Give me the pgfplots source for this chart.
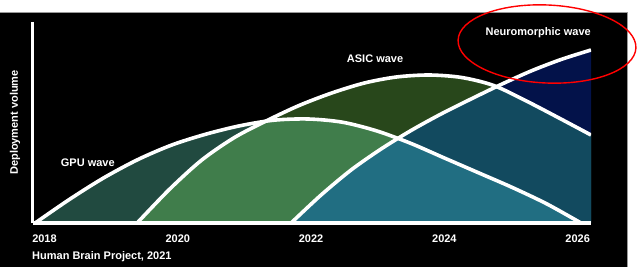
\documentclass[border=0pt]{standalone}
\usepackage{pgfplots}
\pgfplotsset{compat=1.18}
\usepackage{pgfplotstable}
\usepackage{fontspec}
\setmainfont{Liberation Sans}
\definecolor{gputeal}{HTML}{214A40}
\definecolor{asicgreen}{HTML}{28471B}
\definecolor{midgreen}{HTML}{407D4B}
\definecolor{neuroteal}{HTML}{216E82}
\definecolor{blueteal}{HTML}{124A5F}
\definecolor{navyblue}{HTML}{03124A}
\newcommand\labfont{\fontsize{11bp}{13bp}\selectfont\bfseries}

% GPU wave
\pgfplotstableread{
x y
2017.86 0
2018.37 23.4
2018.88 44.8
2019.40 63.4
2019.91 78.0
2020.42 88.8
2020.93 97.2
2021.44 102.8
2021.96 104.0
2022.47 100.8
2022.98 92.2
2023.49 79.8
2024.00 65.0
2024.52 50.0
2025.03 35.2
2025.54 19.0
2026.05 0
}\gpu

% ASIC wave
\pgfplotstableread{
x y
2019.39 0
2019.88 34
2020.36 63
2020.85 85.5
2021.34 102.5
2021.82 117.5
2022.31 130
2022.80 140
2023.28 146
2023.77 148
2024.26 145.5
2024.74 137.5
2025.23 122
2025.72 105
2026.20 88
}\asic

% Neuromorphic wave
\pgfplotstableread{
x y
2021.70 0
2022.15 28
2022.60 53
2023.05 74
2023.50 92.5
2023.95 109
2024.40 124
2024.85 138.5
2025.30 152
2025.75 163.5
2026.20 173
}\neuro

% lower envelope of ASIC and GPU
\pgfplotstableread{
x y
2019.39 0
2019.88 34
2020.36 63
2020.85 85.5
2021.34 102.3
2021.44 102.8
2021.96 104.0
2022.47 100.8
2022.98 92.2
2023.49 79.8
2024.00 65.0
2024.52 50.0
2025.03 35.2
2025.54 19.0
2026.05 0
}\asicgpu

% lower envelope of Neuromorphic and ASIC
\pgfplotstableread{
x y
2021.70 0
2022.15 28
2022.60 53
2023.05 74
2023.50 92.5
2023.95 109
2024.40 124
2024.78 136.3
2025.23 122
2025.72 105
2026.20 88
}\neuroasic

% lower envelope of Neuromorphic and GPU
\pgfplotstableread{
x y
2021.70 0
2022.15 28
2022.60 53
2023.05 74
2023.30 84.4
2023.49 79.8
2024.00 65.0
2024.52 50.0
2025.03 35.2
2025.54 19.0
2026.05 0
}\neurogpu

\begin{document}
\begin{tikzpicture}[font=\labfont]
\useasboundingbox (0,0) rectangle (637bp,267bp);
\fill[white] (0,0) rectangle (637bp,267bp);
\fill[black] (0,0) rectangle (627bp,255bp);
\draw[black!40, line width=0.8bp] (0,255bp) -- (627bp,255bp) -- (627bp,0);
\begin{axis}[
  at={(32.5bp,44bp)}, anchor=south west,
  scale only axis, width=558.5bp, height=201bp,
  xmin=2017.82, xmax=2026.2, ymin=0, ymax=201,
  axis lines=left,
  axis line style={white, line width=3.6bp, -},
  axis on top,
  xtick={2018,2020,2022,2024,2026},
  xticklabels={2018,2020,2022,2024,2026},
  ytick=\empty,
  major tick length=0pt,
  xticklabel style={text=white, font=\labfont, yshift=-8.5bp},
  ylabel={Deployment volume},
  ylabel style={text=white, font=\labfont, at={(axis description cs:-0.0313,0.5)}, anchor=center},
]
\addplot[fill=gputeal, draw=none] table {\gpu} \closedcycle;
\addplot[fill=asicgreen, draw=none] table {\asic} \closedcycle;
\addplot[fill=midgreen, draw=none] table {\asicgpu} \closedcycle;
\addplot[fill=navyblue, draw=none] table {\neuro} \closedcycle;
\addplot[fill=blueteal, draw=none] table {\neuroasic} \closedcycle;
\addplot[fill=neuroteal, draw=none] table {\neurogpu} \closedcycle;
% white outlines
\addplot[white, line width=3.6bp, smooth] table {\gpu};
\addplot[white, line width=3.6bp, smooth] table {\asic};
\addplot[white, line width=3.6bp, smooth] table {\neuro};
\node[text=white] at (axis cs:2018.65,60) {GPU wave};
\node[text=white] at (axis cs:2022.96,164) {ASIC wave};
\end{axis}
\node[text=white, anchor=east, inner sep=0pt] at (591bp,234bp) {Neuromorphic wave};
\node[text=white, anchor=west, inner sep=0pt] at (32bp,10bp) {Human Brain Project, 2021};
\draw[red, line width=1.4bp, rotate around={-2.6:(547bp,223bp)}] (547bp,223bp) ellipse [x radius=89bp, y radius=39bp];
\end{tikzpicture}
\end{document}
